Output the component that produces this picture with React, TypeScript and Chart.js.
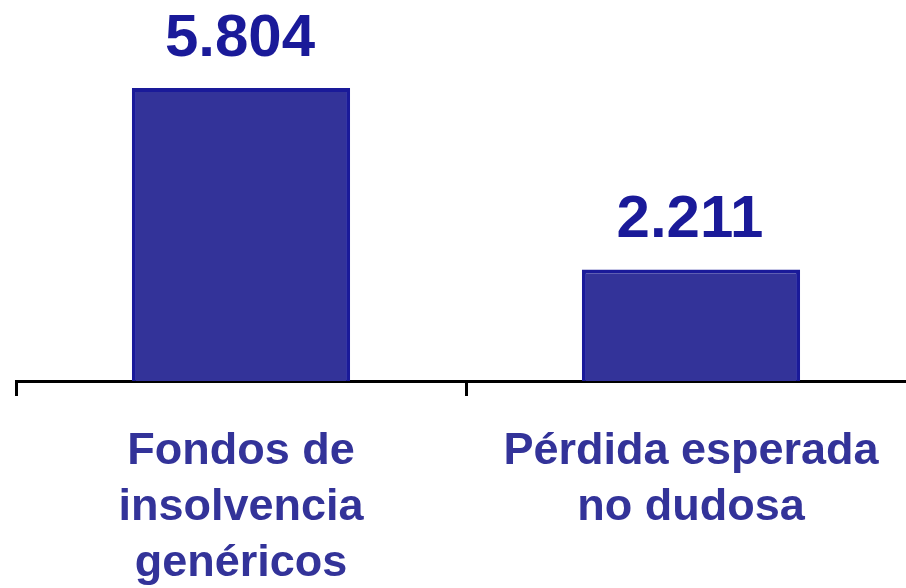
import React, { useEffect, useRef } from "react";
import { Chart, registerables } from "chart.js";

Chart.register(...registerables);

const categories: string[][] = [
  ["Fondos de", "insolvencia", "genéricos"],
  ["Pérdida esperada", "no dudosa"],
];
const values: number[] = [5804, 2211];
const valueLabels: string[] = ["5.804", "2.211"];

const FONT = "'Liberation Sans', Arial, Helvetica, sans-serif";

const valueLabelPlugin = {
  id: "valueLabels",
  afterDatasetsDraw(chart: any) {
    const ctx = chart.ctx;
    const meta = chart.getDatasetMeta(0);
    ctx.save();
    ctx.font = `bold 60px ${FONT}`;
    ctx.fillStyle = "#1A1A99";
    ctx.textAlign = "center";
    ctx.textBaseline = "alphabetic";
    meta.data.forEach((bar: any, i: number) => {
      ctx.fillText(valueLabels[i], bar.x - 1, bar.y - 32);
    });
    ctx.restore();
  },
};

export default function App() {
  const ref = useRef<HTMLCanvasElement>(null);
  useEffect(() => {
    document.body.style.margin = "0";
    document.body.style.overflow = "hidden";
    document.documentElement.style.overflow = "hidden";
    const chart = new Chart(ref.current!, {
      type: "bar",
      data: {
        labels: categories,
        datasets: [
          {
            data: values,
            backgroundColor: "#333399",
            borderColor: "#1A1A99",
            borderWidth: 4,
            categoryPercentage: 1,
            barPercentage: 0.485,
          },
        ],
      },
      options: {
        responsive: false,
        animation: false,
        devicePixelRatio: 1,
        layout: { padding: { left: 16, right: 0, top: 0, bottom: 0 } },
        plugins: { legend: { display: false }, tooltip: { enabled: false } },
        scales: {
          y: { display: false, min: 0, max: 7550 },
          x: {
            afterFit: (scale: any) => {
              scale.height = 207;
            },
            border: { display: true, color: "#000", width: 3 },
            grid: {
              display: true,
              drawOnChartArea: false,
              drawTicks: true,
              tickLength: 15,
              tickWidth: 3,
              tickColor: "#000",
              color: "#000",
              offset: true,
            },
            ticks: {
              padding: 27,
              maxRotation: 0,
              autoSkip: false,
              color: "#333399",
              font: { family: FONT, size: 45, weight: "bold", lineHeight: 1.25 },
            },
          },
        },
      },
      plugins: [valueLabelPlugin],
    });
    return () => chart.destroy();
  }, []);
  return (
    <div style={{ position: "absolute", left: 0, top: 0 }}>
      <canvas ref={ref} width={916} height={588} />
    </div>
  );
}
